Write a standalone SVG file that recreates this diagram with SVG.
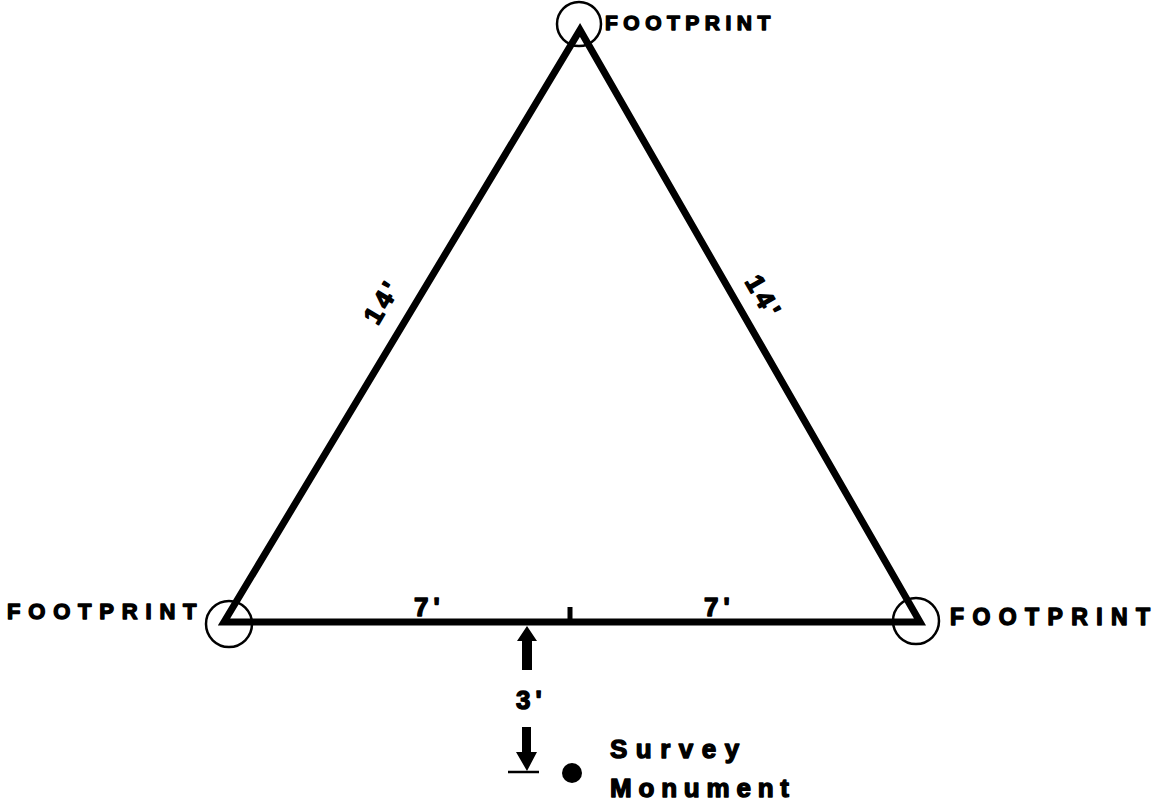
<svg xmlns="http://www.w3.org/2000/svg" width="1165" height="801" viewBox="0 0 1165 801">
<style>
.lbl{font-family:"Liberation Sans",Arial,sans-serif;font-weight:bold;fill:#000;stroke:#000;stroke-width:1.4;stroke-linejoin:round}
.edge{stroke:#000;stroke-width:7;fill:none;stroke-linecap:butt;stroke-linejoin:miter}
.ring{stroke:#000;stroke-width:2.5;fill:none}
</style>
<rect width="1165" height="801" fill="#fff"/>
<g id="connectors">
  <path class="edge" d="M224,622 L580,30 L920,622 Z"/>
  <line x1="570" y1="607" x2="570" y2="622" stroke="#000" stroke-width="5"/>
</g>
<g id="footprint-top">
  <circle class="ring" cx="579" cy="24" r="22"/>
  <text class="lbl" x="605" y="30" font-size="21" letter-spacing="5.5">FOOTPRINT</text>
</g>
<g id="footprint-left">
  <circle class="ring" cx="229" cy="624" r="23"/>
  <text class="lbl" x="7" y="619" font-size="22" letter-spacing="7.8">FOOTPRINT</text>
</g>
<g id="footprint-right">
  <circle class="ring" cx="916" cy="621" r="23"/>
  <text class="lbl" x="950" y="625" font-size="23" letter-spacing="8.4">FOOTPRINT</text>
</g>
<g id="dim-left-14">
  <text class="lbl" font-size="26" letter-spacing="4" text-anchor="middle" transform="translate(390,306) rotate(-59)">14'</text>
</g>
<g id="dim-right-14">
  <text class="lbl" font-size="26" letter-spacing="4" text-anchor="middle" transform="translate(756,302) rotate(60)">14'</text>
</g>
<g id="dim-base">
  <text class="lbl" x="414" y="616" font-size="26" letter-spacing="5">7'</text>
  <text class="lbl" x="704" y="616" font-size="26" letter-spacing="5">7'</text>
</g>
<g id="dim-3ft">
  <polygon points="527,626 537,641 532,641 532,670 522,670 522,641 517,641" fill="#000"/>
  <text class="lbl" x="516" y="709" font-size="26" letter-spacing="5">3'</text>
  <polygon points="522,727 531,727 531,752 537,752 527,771 516,752 522,752" fill="#000"/>
  <line x1="508" y1="772" x2="539" y2="772" stroke="#000" stroke-width="2.5"/>
</g>
<g id="survey-monument">
  <circle cx="572" cy="773" r="10" fill="#000"/>
  <text class="lbl" x="610" y="758" font-size="26" letter-spacing="8.5">Survey</text>
  <text class="lbl" x="610" y="797" font-size="26" letter-spacing="6.8">Monument</text>
</g>
</svg>
